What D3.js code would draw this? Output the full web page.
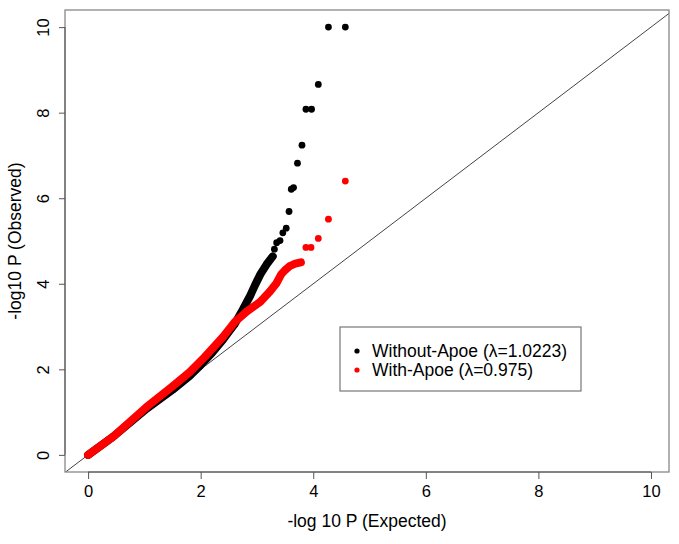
<!DOCTYPE html>
<html>
<head>
<meta charset="utf-8">
<script src="https://cdn.jsdelivr.net/npm/d3@7"></script>
<style>
  html, body { margin: 0; padding: 0; background: #fff; }
  svg { display: block; }
  text { font-family: "Liberation Sans", Arial, Helvetica, sans-serif; fill: #000; }
</style>
</head>
<body>
<svg id="chart" width="679" height="544"></svg>
<script>
// ---- Data ----
const xTicks = [0, 2, 4, 6, 8, 10];
const yTicks = [0, 2, 4, 6, 8, 10];

// Without-Apoe (black): dense part of the QQ curve
const withoutCurveExp = [0, 0.45, 1.04, 1.5, 1.8, 2.0, 2.2, 2.4, 2.6, 2.75, 2.88, 2.97, 3.06, 3.17, 3.28];
const withoutCurveObs = [0, 0.43, 1.08, 1.52, 1.84, 2.1, 2.38, 2.7, 3.05, 3.4, 3.72, 3.98, 4.22, 4.45, 4.64];
// Without-Apoe (black): sparse tail points
const withoutTailExp = [3.31, 3.35, 3.41, 3.46, 3.52, 3.57, 3.61, 3.65, 3.72, 3.80, 3.87, 3.97, 4.09, 4.27, 4.57];
const withoutTailObs = [4.81, 4.96, 5.01, 5.19, 5.30, 5.69, 6.21, 6.25, 6.82, 7.24, 8.08, 8.08, 8.66, 10.0, 10.0];

// With-Apoe (red): dense part of the QQ curve
const withCurveExp = [0, 0.45, 1.04, 1.5, 1.8, 2.08, 2.4, 2.61, 2.82, 3.06, 3.23, 3.35, 3.43, 3.5, 3.59, 3.68, 3.78];
const withCurveObs = [0, 0.43, 1.12, 1.6, 1.93, 2.3, 2.76, 3.11, 3.35, 3.58, 3.82, 4.02, 4.22, 4.32, 4.42, 4.47, 4.50];
// With-Apoe (red): sparse tail points
const withTailExp = [3.87, 3.96, 4.09, 4.27, 4.57];
const withTailObs = [4.85, 4.85, 5.06, 5.51, 6.40];

const seriesNames = ["Without-Apoe (\u03bb=1.0223)", "With-Apoe (\u03bb=0.975)"];
const seriesColors = ["#000000", "#ff0000"];
const xLabel = "-log 10 P (Expected)";
const yLabel = "-log10 P (Observed)";

// ---- Layout ----
const svg = d3.select("#chart");
const plot = { left: 65, right: 669, top: 10, bottom: 472 };

const x = d3.scaleLinear().domain([-0.41, 10.32]).range([plot.left, plot.right]);
const y = d3.scaleLinear().domain([-0.40, 10.40]).range([plot.bottom, plot.top]);

svg.append("defs").append("clipPath").attr("id", "clip")
  .append("rect")
  .attr("x", plot.left).attr("y", plot.top)
  .attr("width", plot.right - plot.left).attr("height", plot.bottom - plot.top);

// Diagonal y = x
const dom = x.domain();
svg.append("line")
  .attr("clip-path", "url(#clip)")
  .attr("x1", x(dom[0])).attr("y1", y(dom[0]))
  .attr("x2", x(dom[1])).attr("y2", y(dom[1]))
  .attr("stroke", "#444").attr("stroke-width", 1);

// Series drawing
const line = d3.line().x(d => x(d[0])).y(d => y(d[1]));
function drawSeries(curveX, curveY, tailX, tailY, color) {
  const curve = curveX.map((v, i) => [v, curveY[i]]);
  const tail = tailX.map((v, i) => [v, tailY[i]]);
  const g = svg.append("g").attr("clip-path", "url(#clip)");
  g.append("path").datum(curve)
    .attr("d", line)
    .attr("fill", "none")
    .attr("stroke", color)
    .attr("stroke-width", 8)
    .attr("stroke-linecap", "round")
    .attr("stroke-linejoin", "round");
  g.selectAll("circle.c").data(curve.concat(tail)).join("circle")
    .attr("cx", d => x(d[0])).attr("cy", d => y(d[1]))
    .attr("r", 3.4).attr("fill", color);
}
drawSeries(withoutCurveExp, withoutCurveObs, withoutTailExp, withoutTailObs, seriesColors[0]);
drawSeries(withCurveExp, withCurveObs, withTailExp, withTailObs, seriesColors[1]);

// Box
svg.append("rect")
  .attr("x", plot.left).attr("y", plot.top)
  .attr("width", plot.right - plot.left).attr("height", plot.bottom - plot.top)
  .attr("fill", "none").attr("stroke", "#888").attr("stroke-width", 1.3);

// X axis
const xAxis = d3.axisBottom(x).tickValues(xTicks).tickSize(7).tickPadding(6).tickFormat(d3.format("d"));
const gx = svg.append("g").attr("transform", `translate(0,${plot.bottom})`).call(xAxis);
gx.select(".domain").attr("d", `M${x(0)},0H${x(10)}`).attr("stroke", "#555");
gx.selectAll(".tick line").attr("stroke", "#555");
gx.selectAll(".tick text").style("font-size", "16.5px").style("font-family", "'Liberation Sans', Arial, sans-serif").attr("fill", "#000");

// Y axis
const yAxis = d3.axisLeft(y).tickValues(yTicks).tickSize(6).tickPadding(6).tickFormat(d3.format("d"));
const gy = svg.append("g").attr("transform", `translate(${plot.left},0)`).call(yAxis);
gy.select(".domain").attr("d", `M0,${y(0)}V${y(10)}`).attr("stroke", "#555");
gy.selectAll(".tick line").attr("stroke", "#555");
gy.selectAll(".tick text")
  .style("font-size", "16.5px").style("font-family", "'Liberation Sans', Arial, sans-serif").attr("fill", "#000")
  .attr("x", null)
  .attr("text-anchor", "middle")
  .attr("transform", "translate(-22,0) rotate(-90)")
  .attr("dy", "0.35em")
  .attr("y", 0);

// Axis titles
svg.append("text")
  .attr("x", (plot.left + plot.right) / 2).attr("y", 527)
  .attr("text-anchor", "middle")
  .style("font-size", "17.5px")
  .text(xLabel);

svg.append("text")
  .attr("transform", `translate(21,${(plot.top + plot.bottom) / 2}) rotate(-90)`)
  .attr("text-anchor", "middle")
  .style("font-size", "17.5px")
  .text(yLabel);

// Legend
const lg = svg.append("g");
lg.append("rect")
  .attr("x", 340).attr("y", 327).attr("width", 241).attr("height", 64)
  .attr("fill", "#fff").attr("stroke", "#777").attr("stroke-width", 1.2);
seriesNames.forEach((name, i) => {
  const cy = 351 + i * 19;
  lg.append("circle").attr("cx", 357).attr("cy", cy).attr("r", 2.6).attr("fill", seriesColors[i]);
  lg.append("text").attr("x", 372).attr("y", cy + 5.5).style("font-size", "17.5px").text(name);
});
</script>
</body>
</html>
